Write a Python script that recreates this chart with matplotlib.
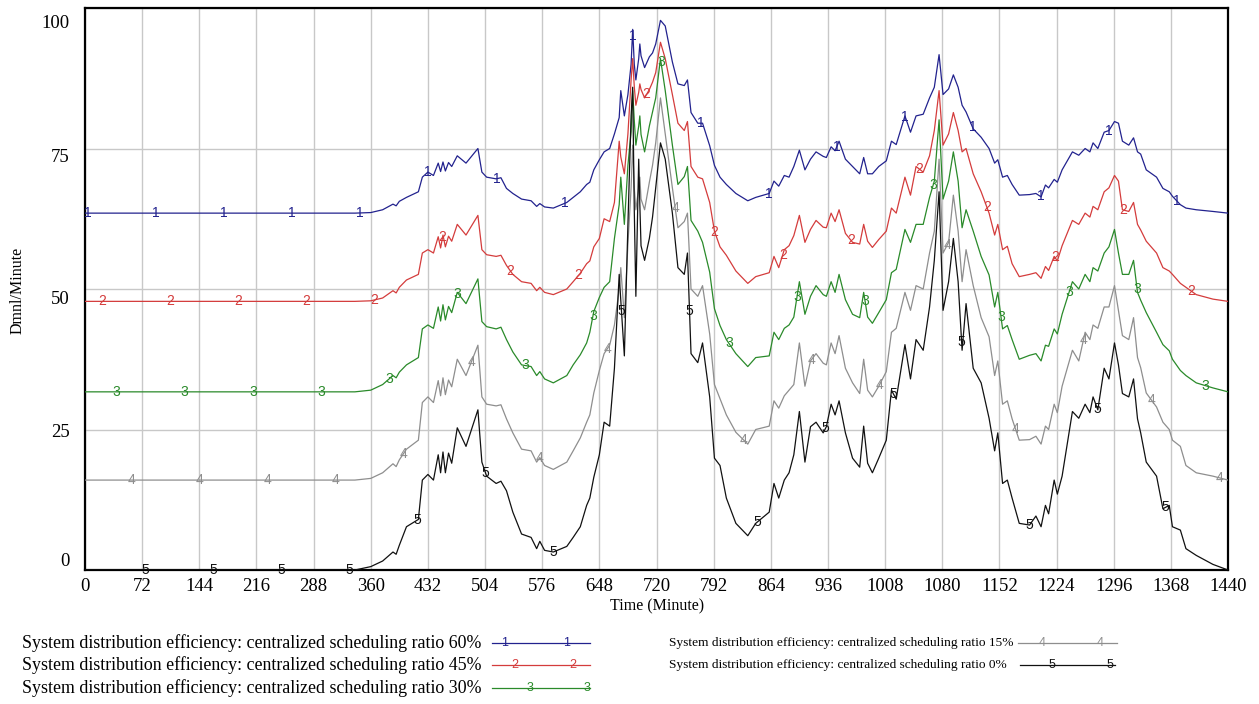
import numpy as np
import matplotlib
matplotlib.use("Agg")
import matplotlib.pyplot as plt
from matplotlib.lines import Line2D
from matplotlib.transforms import ScaledTranslation

# ---- simulation output (Time in minutes, values in Dmnl/Minute) ----
minutes = [
    0, 340, 360, 375, 388, 392, 396, 405, 420, 425, 432, 439, 445, 448, 451,
    454, 458, 462, 469, 480, 495, 500, 506, 518, 524, 531, 539, 550, 562, 569,
    573, 579, 590, 607, 615, 624, 632, 636, 641,
    648, 654, 661, 667, 673, 675, 679.5, 684, 688, 690, 692, 694, 697.6, 699,
    700.5, 705, 711, 715, 719, 725, 731, 740, 747, 755, 759, 763.5, 772, 778,
    787, 793, 800, 808, 820, 835, 845, 862, 868, 874, 881, 887,
    893, 900, 907, 914, 921, 930, 934, 940, 945, 950, 958, 967, 976, 981, 986,
    992, 1000, 1009.5, 1016, 1022, 1033, 1040, 1047, 1056, 1064, 1070, 1076,
    1081, 1088, 1094, 1100, 1105, 1110, 1119, 1129, 1139,
    1146, 1150, 1156, 1162, 1168, 1177, 1190, 1198, 1204.5, 1210, 1214, 1221,
    1225, 1231, 1244, 1252, 1260, 1266, 1270, 1276, 1284, 1290, 1297, 1302,
    1307, 1315, 1321, 1326, 1330, 1337, 1350, 1358, 1366, 1370, 1380, 1387,
    1400, 1421, 1440,
]

eff_60 = [
    63.5, 63.5, 63.6, 64.1, 65.1, 64.8, 65.6, 66.3, 67.3, 69.9, 70.8, 70.2, 72.4, 70.9, 72.6,
    71.0, 72.5, 71.8, 73.7, 72.4, 75.0, 70.8, 69.9, 69.6, 69.8, 67.9, 67.0, 66.0, 65.7, 64.7,
    65.2, 64.6, 64.4, 65.4, 66.3, 67.3, 68.6, 69.0, 71.2,
    73.0, 74.4, 75.0, 77.6, 80.5, 85.3, 80.8, 84.6, 90.0, 96.2, 90.0, 87.2, 91.0, 93.6,
    91.5, 89.4, 91.3, 92.0, 93.6, 97.8, 96.8, 90.4, 86.5, 86.2, 87.2, 81.4, 79.5, 79.5,
    75.5, 72.0, 69.9, 68.6, 67.0, 65.7, 66.3, 67.0, 69.2, 68.3, 70.2, 69.9,
    71.8, 74.7, 71.2, 73.1, 74.4, 73.6, 73.4, 75.3, 74.6, 76.3, 73.1, 71.8, 70.5, 73.4, 70.5,
    70.5, 71.8, 72.8, 76.3, 75.7, 80.8, 77.9, 80.8, 81.1, 84.0, 85.9, 91.7,
    84.6, 85.6, 88.1, 85.9, 82.7, 81.5, 78.5, 77.0, 75.0,
    72.4, 73.0, 69.9, 70.2, 68.6, 66.7, 66.8, 67.0, 66.4, 68.5, 68.0, 69.5,
    69.0, 71.2, 74.4, 73.8, 75.0, 74.4, 76.0, 75.0, 77.9, 78.2, 79.8, 79.5,
    76.3, 75.6, 76.9, 74.4, 74.0, 71.2, 69.9, 67.9, 67.3, 66.5, 65.0, 64.4,
    64.1, 63.8, 63.5,
]

eff_45 = [
    47.8, 47.8, 47.9, 48.4, 49.7, 49.3, 50.3, 51.6, 52.6, 56.4, 57.0, 56.4, 59.3, 57.3, 59.6,
    57.5, 59.4, 58.5, 61.5, 59.6, 63.1, 57.0, 56.1, 55.8, 56.0, 54.2, 52.6, 51.3, 51.0, 49.7,
    50.3, 49.4, 49.0, 50.0, 51.3, 52.8, 54.5, 55.0, 57.5,
    59.0, 62.5, 62.0, 65.4, 76.3, 73.5, 70.5, 77.6, 87.2, 91.0, 86.0, 82.7, 85.0, 86.5,
    85.5, 84.0, 85.5, 86.8, 88.5, 93.9, 91.0, 84.6, 79.5, 78.2, 79.8, 71.8, 69.9, 69.6,
    65.4, 60.3, 57.5, 56.0, 53.2, 51.0, 52.2, 52.9, 55.8, 53.8, 57.0, 57.7,
    59.5, 63.1, 58.3, 60.6, 62.2, 61.0, 60.9, 63.5, 62.0, 64.1, 59.9, 58.3, 58.0, 61.5, 58.5,
    57.4, 58.8, 60.3, 64.4, 63.5, 69.9, 66.7, 71.8, 70.8, 73.7, 78.2, 85.3,
    75.6, 77.6, 81.4, 78.2, 74.4, 75.0, 70.5, 67.3, 63.5,
    59.6, 61.5, 57.0, 57.6, 54.5, 52.2, 52.6, 52.9, 51.9, 54.0, 53.3, 55.8,
    55.0, 57.7, 62.2, 61.5, 63.5, 62.8, 64.7, 64.1, 67.3, 68.0, 70.2, 69.2,
    64.1, 63.8, 65.4, 61.5, 60.5, 58.5, 56.4, 53.8, 53.2, 52.6, 51.0, 50.3,
    49.0, 48.2, 47.8,
]

eff_30 = [
    31.7, 31.7, 32.0, 33.0, 34.6, 34.2, 35.2, 36.5, 37.8, 42.9, 43.6, 43.0, 46.8, 44.3, 47.2,
    44.5, 46.9, 45.8, 49.4, 47.4, 51.8, 44.2, 43.3, 42.9, 43.2, 41.0, 38.8, 36.5, 36.2, 34.6,
    35.3, 34.0, 33.3, 34.6, 36.5, 38.3, 40.4, 42.3, 46.0,
    48.5, 50.3, 51.3, 59.0, 65.0, 69.9, 61.5, 72.0, 78.0, 85.3, 80.0, 75.6, 79.0, 80.8,
    77.5, 74.4, 79.0, 81.5, 84.0, 91.0, 85.3, 75.6, 68.6, 70.0, 71.8, 62.2, 60.3, 58.3,
    53.0, 46.5, 43.5, 41.0, 38.5, 36.2, 37.8, 38.1, 42.3, 41.0, 43.0, 43.6,
    45.0, 51.3, 45.5, 48.7, 50.6, 49.0, 48.7, 51.3, 49.4, 52.6, 48.1, 45.5, 44.9, 49.4, 45.0,
    43.9, 45.8, 48.1, 52.9, 53.5, 60.6, 58.3, 61.5, 61.5, 66.3, 69.2, 80.1,
    66.0, 69.2, 74.4, 69.2, 60.9, 64.1, 60.3, 55.8, 52.5,
    46.8, 49.4, 42.9, 43.5, 41.0, 37.5, 38.2, 38.5, 37.2, 40.0, 39.8, 42.9,
    42.0, 45.5, 51.3, 50.0, 52.6, 51.3, 53.8, 53.2, 56.4, 57.5, 60.6, 56.4,
    52.6, 52.6, 55.1, 49.4, 48.0, 45.8, 42.3, 40.1, 39.0, 37.5, 35.5, 34.6,
    33.3, 32.4, 31.7,
]

eff_15 = [
    16.0, 16.0, 16.3, 17.3, 18.9, 18.4, 19.6, 21.5, 23.1, 29.8, 30.8, 29.8, 33.7, 31.0, 34.2,
    31.2, 33.8, 32.6, 37.5, 34.6, 40.0, 30.8, 29.5, 29.2, 29.4, 26.9, 24.4, 21.5, 21.2, 19.2,
    20.0, 18.6, 17.9, 19.2, 21.2, 23.5, 26.3, 27.6, 31.5,
    35.5, 38.5, 40.0, 43.6, 50.0, 53.8, 44.9, 58.0, 68.0, 75.6, 68.0, 64.1, 68.0, 69.9,
    66.0, 64.1, 69.0, 72.0, 76.0, 84.0, 77.6, 68.0, 60.9, 62.0, 63.5, 50.0, 48.7, 50.6,
    42.0, 33.0, 30.5, 27.6, 24.5, 22.4, 25.0, 25.6, 30.1, 28.8, 31.0, 32.0,
    33.0, 40.4, 32.7, 37.2, 38.5, 36.8, 36.5, 40.4, 38.5, 41.7, 35.9, 33.3, 31.4, 37.5, 32.0,
    30.8, 32.7, 35.3, 42.3, 43.0, 49.4, 46.2, 50.6, 50.0, 56.4, 60.3, 73.1,
    56.4, 58.3, 66.7, 60.3, 51.3, 57.0, 50.6, 44.9, 41.5,
    34.6, 37.2, 29.5, 30.1, 26.9, 23.1, 23.2, 23.8, 22.4, 25.6, 25.0, 29.5,
    28.0, 32.7, 39.1, 37.2, 42.3, 41.0, 43.6, 43.0, 46.8, 46.8, 50.6, 46.2,
    41.7, 41.0, 44.9, 37.8, 36.0, 31.5, 29.0, 26.3, 25.0, 23.1, 22.0, 18.6,
    17.3, 16.7, 16.0,
]

eff_0 = [
    0.0, 0.0, 0.6, 1.6, 3.2, 2.8, 4.4, 7.7, 9.0, 16.0, 17.0, 16.0, 20.5, 17.3, 21.0,
    17.3, 20.8, 19.0, 25.3, 22.0, 28.5, 19.2, 16.7, 15.4, 15.8, 14.1, 10.3, 6.4, 5.8, 3.8,
    5.1, 3.5, 3.2, 4.2, 5.8, 7.7, 11.5, 12.8, 16.5,
    20.5, 26.3, 25.6, 35.9, 52.6, 48.0, 38.1, 61.5, 80.8, 85.9, 64.1, 48.7, 73.1, 65.0,
    57.7, 55.1, 59.0, 62.8, 68.0, 76.0, 73.1, 63.5, 53.8, 52.6, 56.4, 38.5, 36.9, 40.4,
    30.8, 19.9, 18.6, 12.8, 8.3, 6.1, 8.3, 10.3, 15.4, 12.8, 16.0, 17.3,
    20.5, 28.2, 19.2, 25.5, 26.3, 24.4, 25.5, 29.5, 27.6, 30.1, 24.4, 19.9, 18.3, 25.6, 19.0,
    17.3, 19.9, 23.1, 32.0, 30.4, 40.1, 34.0, 41.0, 39.1, 46.8, 55.1, 67.3,
    46.2, 51.3, 59.0, 51.3, 39.1, 47.4, 35.9, 33.3, 27.0,
    21.2, 24.4, 15.4, 16.0, 12.8, 8.3, 8.0, 9.6, 7.7, 11.5, 10.0, 16.0,
    13.5, 16.7, 28.2, 27.0, 29.5, 28.0, 30.8, 28.5, 35.9, 34.0, 40.4, 36.5,
    31.4, 30.8, 34.0, 26.9, 24.4, 19.2, 16.7, 10.9, 11.5, 7.7, 7.1, 3.8,
    2.6, 1.0, 0.0,
]

x_ticks = list(range(0, 1441, 72))
y_ticks = [0, 25, 50, 75, 100]
legend_labels = [
    "System distribution efficiency: centralized scheduling ratio 60%",
    "System distribution efficiency: centralized scheduling ratio 45%",
    "System distribution efficiency: centralized scheduling ratio 30%",
    "System distribution efficiency: centralized scheduling ratio 15%",
    "System distribution efficiency: centralized scheduling ratio 0%",
]
series_values = [eff_60, eff_45, eff_30, eff_15, eff_0]
series_ids = ["1", "2", "3", "4", "5"]
colors = ["#22228e", "#d43c3c", "#2a8a2a", "#8e8e8e", "#111111"]

SERIF = "Liberation Serif"
SANS = "Liberation Sans"

W, H = 1259, 704
fig = plt.figure(figsize=(W / 100, H / 100), dpi=100)
ax = fig.add_axes([85 / W, 1 - 570 / H, (1228 - 85) / W, (570 - 8) / H])

t = np.asarray(minutes, dtype=float)
for vals, sid, col in zip(series_values, series_ids, colors):
    ax.plot(t, vals, color=col, lw=0.9, zorder=3)

# numeric line identifiers placed at regular time intervals along each curve
for k, (vals, sid, col) in enumerate(zip(series_values, series_ids, colors)):
    pos = np.arange(4 + 18 * k, 1441, 85.7)
    ys = np.interp(pos, t, vals)
    for px, py in zip(pos, ys):
        ax.text(px, py, sid, color=col, fontsize=10, family=SANS,
                ha="center", va="center", zorder=4, clip_on=False)

ax.set_xlim(0, 1440)
ax.set_ylim(0, 100)
ax.set_xticks(x_ticks)
ax.set_yticks(y_ticks)
ax.grid(True, color="#c8c8c8", lw=1.0)
ax.set_axisbelow(True)
for s in ax.spines.values():
    s.set_linewidth(1.6)
    s.set_color("black")
ax.tick_params(axis="both", length=0, labelsize=13.5)
ax.tick_params(axis="x", pad=6)
ax.tick_params(axis="y", pad=11)
for lab in ax.get_xticklabels() + ax.get_yticklabels():
    lab.set_family(SERIF)

# vertical nudges (pixels) of the y tick labels
y_shift_px = [10, -1, -9, -7, -13]
for lab, dy in zip(ax.get_yticklabels(), y_shift_px):
    lab.set_transform(lab.get_transform() +
                      ScaledTranslation(0, dy / 100, fig.dpi_scale_trans))

fig.text(657 / W, 1 - 606 / H, "Time (Minute)", family=SERIF, fontsize=11.5,
         ha="center", va="center")
fig.text(18 / W, 1 - 290 / H, "Dmnl/Minute", family=SERIF, fontsize=11.5,
         ha="center", va="center", rotation=90)

# legend block: (text x, row y, line start, line end, marker xs, font size)
rows = [
    (22, 643, 492, 590, [505, 567], 12.9),
    (22, 665, 492, 590, [515, 573], 12.9),
    (22, 688, 492, 590, [530, 587], 12.9),
    (669, 643, 1018, 1117, [1042, 1100], 9.6),
    (669, 665, 1020, 1115, [1052, 1110], 9.6),
]
for (tx, ty, l0, l1, mk, fs), lab, sid, col in zip(rows, legend_labels, series_ids, colors):
    fig.text(tx / W, 1 - ty / H, lab, family=SERIF, fontsize=fs,
             ha="left", va="center")
    fig.add_artist(Line2D([l0 / W, l1 / W], [1 - ty / H, 1 - ty / H],
                          color=col, lw=0.9, transform=fig.transFigure))
    for m in mk:
        fig.text(m / W, 1 - ty / H, sid, color=col, family=SANS, fontsize=9,
                 ha="center", va="center")

fig.savefig("out.png", dpi=100, facecolor="white")
